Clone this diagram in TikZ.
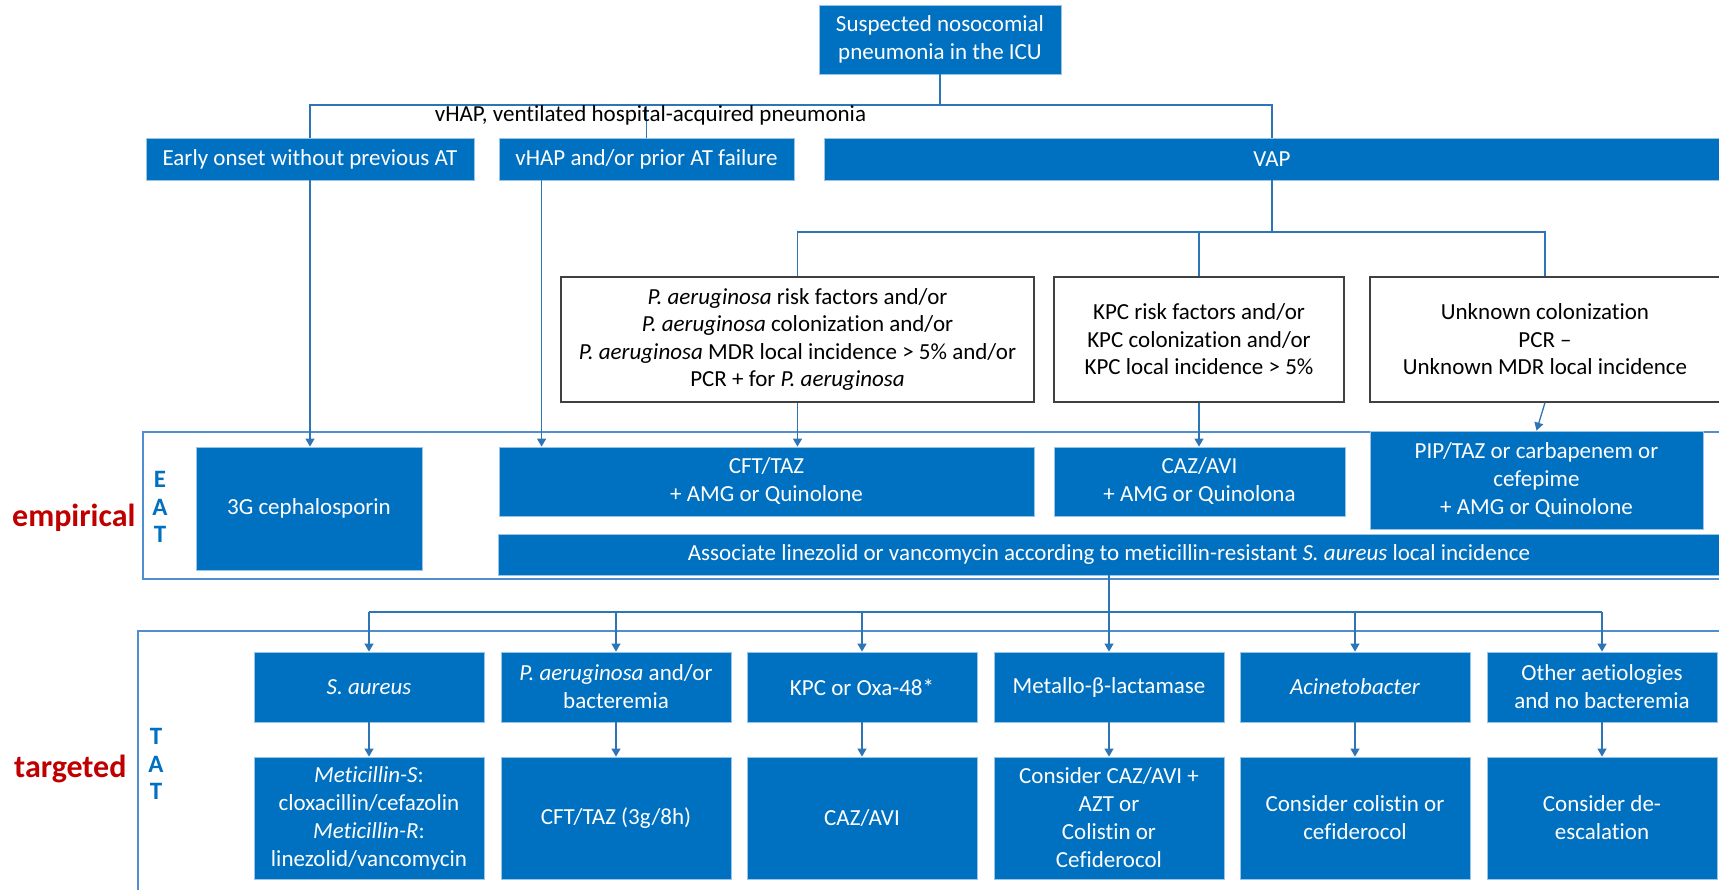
\documentclass[tikz,border=0pt]{standalone}
\usepackage{fontspec}
\setmainfont{Carlito}[Ligatures=NoCommon, RawFeature={-calt;-clig}]
\usetikzlibrary{arrows.meta, positioning, calc}
\definecolor{boxblue}{HTML}{0070C0}
\definecolor{lineblue}{HTML}{2E75B6}
\definecolor{frameblue}{HTML}{4F8FCF}
\definecolor{labred}{HTML}{C00000}

\begin{document}
\begin{tikzpicture}[
      x=1pt, y=-1pt,
      bluebox/.style={fill=boxblue, draw=boxblue!40, line width=0.8pt, text=white,
                      align=center, inner sep=0, font=\fontsize{23}{28}\selectfont},
      condbox/.style={draw=black!75, line width=1.2pt, fill=white, align=center,
                      inner sep=0, font=\fontsize{23}{27.5}\selectfont},
      link/.style={draw=lineblue, line width=1.3pt},
      arr/.style={link, -{Triangle[length=8pt, width=9pt]}},
      frame/.style={draw=frameblue, line width=1.3pt},
      side/.style={font=\bfseries\fontsize{32}{34}\selectfont, text=labred},
      abbr/.style={font=\bfseries\fontsize{25}{27.5}\selectfont, text=boxblue, align=center},
    ]
    \useasboundingbox (0,0) rectangle (1719,890);

    % ---- frames of the two phases ----
    \draw[frame] (1730,432) -| (143,579) -- (1730,579);
    \draw[frame] (1730,631) -| (138,900);

    % ---- top: suspicion and split ----
    \node[bluebox, minimum width=242, minimum height=69] (suspect) at (940,39.5)
      {Suspected nosocomial\\pneumonia in the ICU};

    \node[bluebox, minimum width=328, minimum height=42] (early) at (310,159)
      {Early onset without previous AT};
    \node[bluebox, minimum width=295, minimum height=42] (vhap) at (646.5,159)
      {vHAP and/or prior AT failure};
    \node[bluebox, minimum width=896, minimum height=42] (vap) at (1272,159) {VAP};

    \coordinate (split1) at (940,105);
    \draw[link] (suspect) -- (split1);
    \draw[link] (early.north) |- (split1) -| (vap.north);
    \draw[link] (vhap.north) -- (vhap.north |- split1);
    \node[anchor=base, font=\fontsize{23}{28}\selectfont] (vhapnote) at (650.5,122)
      {vHAP, ventilated hospital-acquired pneumonia};

    % ---- VAP conditions ----
    \node[condbox, minimum width=473, minimum height=125] (pacond) at (797.5,339.5)
      {\textit{P. aeruginosa} risk factors and/or\\
       \textit{P. aeruginosa} colonization and/or\\
       \textit{P. aeruginosa} MDR local incidence > 5\% and/or\\
       PCR + for \textit{P. aeruginosa}};
    \node[condbox, minimum width=290, minimum height=125] (kpccond) at (1199,339.5)
      {KPC risk factors and/or\\KPC colonization and/or\\KPC local incidence > 5\%};
    \node[condbox, minimum width=350, minimum height=125] (unkcond) at (1545,339.5)
      {Unknown colonization\\PCR --\\Unknown MDR local incidence};

    \coordinate (split2) at (1272,232);
    \draw[link] (vap) -- (split2);
    \draw[link] (pacond.north) |- (split2) -| (unkcond.north);
    \draw[link] (kpccond.north) -- (kpccond.north |- split2);

    % ---- empirical treatment ----
    \node[side, anchor=base east] (empir) at (139,526) {empirical};
    \node[abbr] (eat) at (160,507) {E\\A\\T};

    \node[bluebox, minimum width=226, minimum height=123] (ceph) at (309,508.5)
      {3G cephalosporin};
    \node[bluebox, minimum width=535, minimum height=69] (cftemp) at (766.5,481.5)
      {CFT/TAZ\\+ AMG or Quinolone};
    \node[bluebox, minimum width=291, minimum height=69] (cazemp) at (1199.5,481.5)
      {CAZ/AVI\\+ AMG or Quinolona};
    \node[bluebox, minimum width=333, minimum height=98] (pipemp) at (1536.5,480)
      {PIP/TAZ or carbapenem or\\cefepime\\+ AMG or Quinolone};
    \node[bluebox, minimum width=1222, minimum height=41] (assoc) at (1109,554.5)
      {Associate linezolid or vancomycin according to meticillin-resistant \textit{S. aureus} local incidence};

    \draw[arr] (early.south) -- (early.south |- ceph.north);
    \draw[arr] ($(vhap.south west)+(43,0)$) -- ($(cftemp.north west)+(43,0)$);
    \draw[arr] (pacond.south) -- (pacond.south |- cftemp.north);
    \draw[arr] (kpccond.south) -- (kpccond.south |- cazemp.north);
    \draw[arr] (unkcond.south) -- (pipemp.north);

    % ---- targeted treatment ----
    \node[side, anchor=base east] (target) at (130,777) {targeted};
    \node[abbr] (tat) at (156,764) {T\\A\\T};

    \node[bluebox, minimum width=230, minimum height=70] (org1) at (369,687) {\textit{S. aureus}};
    \node[bluebox, minimum width=230, minimum height=70] (org2) at (616,687)
      {\textit{P. aeruginosa} and/or\\bacteremia};
    \node[bluebox, minimum width=230, minimum height=70] (org3) at (862,687) {KPC or Oxa-48*};
    \node[bluebox, minimum width=230, minimum height=70] (org4) at (1109,687) {Metallo-β-lactamase};
    \node[bluebox, minimum width=230, minimum height=70] (org5) at (1355,687) {\textit{Acinetobacter}};
    \node[bluebox, minimum width=230, minimum height=70] (org6) at (1602,687)
      {Other aetiologies\\and no bacteremia};

    \node[bluebox, minimum width=230, minimum height=122] (tx1) at (369,818)
      {\textit{Meticillin-S}:\\cloxacillin/cefazolin\\\textit{Meticillin-R}:\\linezolid/vancomycin};
    \node[bluebox, minimum width=230, minimum height=122] (tx2) at (616,818) {CFT/TAZ (3g/8h)};
    \node[bluebox, minimum width=230, minimum height=122] (tx3) at (862,818) {CAZ/AVI};
    \node[bluebox, minimum width=230, minimum height=122] (tx4) at (1109,818)
      {Consider CAZ/AVI +\\AZT or\\Colistin or\\Cefiderocol};
    \node[bluebox, minimum width=230, minimum height=122] (tx5) at (1355,818)
      {Consider colistin or\\cefiderocol};
    \node[bluebox, minimum width=230, minimum height=122] (tx6) at (1602,818)
      {Consider de-\\escalation};

    \coordinate (split3) at (1109,612);
    \draw[link] (assoc.south) -- (split3);
    \draw[link] (split3 -| org1.north) -- (split3 -| org6.north);
    \foreach \i in {1,...,6} {
      \draw[arr] (split3 -| org\i.north) -- (org\i.north);
      \draw[arr] (org\i) -- (tx\i);
    }

  \end{tikzpicture}
\end{document}
